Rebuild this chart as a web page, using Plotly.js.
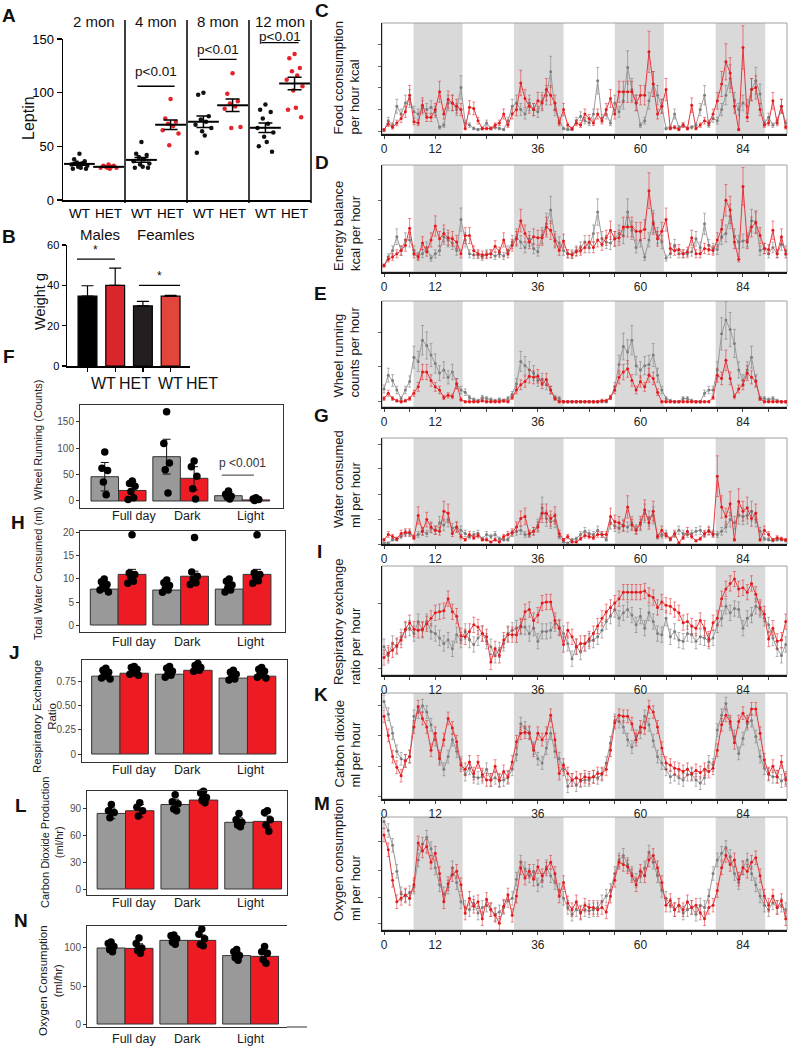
<!DOCTYPE html>
<html><head><meta charset="utf-8">
<script src="https://cdn.plot.ly/plotly-3.0.1.min.js"></script>
<style>html,body{margin:0;padding:0;background:#fff}#fig{width:796px;height:1046px}</style>
</head><body><div id="fig"></div>
<script>
// ================= DATA =================
// Panel A: leptin
const ageGroups = ['2 mon', '4 mon', '8 mon', '12 mon'];
const genotypes = ['WT', 'HET'];
const leptinWT = [
  [43, 38, 36, 35, 34, 33, 32, 31, 30, 29, 29],
  [54, 43, 42, 40, 38, 36, 34, 33, 31, 30, 30],
  [100, 98, 78, 75, 73, 70, 67, 64, 60, 44],
  [89, 84, 82, 76, 71, 67, 63, 59, 54, 50, 45]
];
const leptinHET = [
  [33, 32, 32, 31, 31, 30, 30, 30, 29],
  [94, 76, 73, 71, 69, 65, 62, 51],
  [118, 99, 92, 90, 87, 85, 68, 67],
  [136, 132, 123, 120, 116, 112, 106, 102, 86, 84, 77]
];
const leptinPText = ['', 'p<0.01', 'p<0.01', 'p<0.01'];

// Panel B: weight
const weightSex = ['Males', 'Feamles'];
const weightGeno = ['WT', 'HET', 'WT', 'HET'];
const weightMean = [34.6, 40.0, 29.8, 34.6];
const weightSD = [5.2, 8.5, 2.2, 0.4];

// Bar panels F, H, J, L, N
const periods = ['Full day', 'Dark', 'Light'];
const wheelWT = [46, 84, 10], wheelHET = [20, 43, 2];
const wheelErrWT = [27, 33, 8], wheelErrHET = [17, 22, 3];
const wheelPtsWT = [[93, 62, 58, 36, 12], [169, 109, 72, 59, 15], [19, 13, 9, 8, 4]];
const wheelPtsHET = [[38, 33, 28, 18, 6, 3], [76, 65, 47, 23, 4], [6, 4, 3, 1]];

const waterWT = [7.8, 7.6, 7.8], waterHET = [11.0, 10.6, 11.0];
const waterErrWT = [0.4, 0.4, 0.4], waterErrHET = [1.1, 1.1, 1.1];
const waterPtsWT = [[10, 9.4, 8.8, 8.3, 8, 7.6, 7.2], [9.8, 9.2, 8.6, 8, 7.6, 7.1], [10, 9.5, 8.7, 8.1, 7.6, 7.2]];
const waterPtsHET = [[19.6, 11.3, 11, 10.6, 9.5, 9.1], [19, 11.5, 10.6, 10, 9.2, 8.8], [19.6, 11.3, 11, 10.5, 9.6, 9.1]];

const rerWT = [0.80, 0.82, 0.78], rerHET = [0.83, 0.86, 0.80];
const rerErrWT = [0.02, 0.02, 0.02], rerErrHET = [0.015, 0.015, 0.015];
const rerPtsWT = [[0.88, 0.86, 0.84, 0.82, 0.80, 0.78, 0.77], [0.90, 0.88, 0.85, 0.83, 0.81, 0.79], [0.86, 0.84, 0.82, 0.79, 0.77, 0.76]];
const rerPtsHET = [[0.90, 0.89, 0.87, 0.85, 0.83, 0.82, 0.81], [0.93, 0.91, 0.89, 0.87, 0.86, 0.85], [0.89, 0.87, 0.85, 0.83, 0.81, 0.79, 0.78]];

const co2WT = [85, 95, 75], co2HET = [88, 100, 76];
const co2ErrWT = [6, 6, 5], co2ErrHET = [7, 4, 6];
const co2PtsWT = [[95, 88, 86, 80], [106, 98, 96, 90, 88], [85, 78, 75, 72, 70]];
const co2PtsHET = [[97, 92, 88, 82], [110, 108, 103, 100, 97], [88, 86, 78, 72, 65]];

const o2WT = [100, 110, 90], o2HET = [99.5, 110, 89];
const o2ErrWT = [6, 6, 5], o2ErrHET = [6, 7, 6];
const o2PtsWT = [[108, 106, 102, 98, 95], [117, 116, 112, 108, 105], [98, 95, 90, 87, 84]];
const o2PtsHET = [[113, 106, 100, 97, 93], [125, 118, 112, 105, 103], [102, 95, 93, 85, 80]];

// Time-course panels (hourly, relative units 0-100 of panel height)
const hourTickLabels = {0: '0', 12: '12', 36: '36', 60: '60', 84: '84'};
const darkStart = [6.9, 30.4, 54.0, 77.6];
const darkEnd = [18.4, 42.0, 65.5, 89.2];

const foodRed = [4,9,6,10,14,20,35,11,10,26, 15,15,22,38,18,31,28,25,22,5, 24,23,12,5,5,5,8,10,18,8, 18,22,46,32,25,22,30,28,40,35, 28,10,22,8,5,10,8,18,14,10, 18,12,22,32,18,38,38,38,38,28, 35,35,74,45,18,25,40,5,6,4, 8,5,26,5,8,12,10,18,30,45, 65,55,25,4,78,15,40,42,22,8, 10,30,10,25,6];
const foodGray = [3,12,8,25,18,28,32,20,18,24, 22,24,20,6,8,28,28,22,42,10, 8,5,4,5,10,5,6,5,4,12, 25,28,22,18,28,22,20,30,35,56, 22,12,5,4,4,12,16,12,10,18, 48,14,18,10,28,20,30,60,40,28, 8,12,30,45,35,25,5,6,18,6, 8,5,6,8,22,35,8,14,12,22, 35,50,30,22,28,25,40,48,36,10, 15,8,12,25,10];
const energyRed = [6,12,14,17,20,25,41,17,14,27, 19,30,43,31,36,32,31,28,17,34, 34,20,17,16,16,17,24,19,30,17, 25,31,48,36,28,33,32,32,42,39, 29,20,29,17,16,19,20,23,28,23, 30,26,32,39,31,32,42,42,42,38, 38,40,76,45,31,38,49,22,20,21, 17,19,32,17,17,22,21,20,30,40, 67,58,28,12,80,28,42,46,34,22, 21,39,17,33,17];
const energyGray = [6,14,20,33,20,30,30,20,15,17, 23,13,17,20,33,30,27,20,49,30, 17,16,16,14,17,17,15,17,15,20, 28,33,28,23,31,22,19,34,45,58, 31,27,20,17,17,20,23,28,23,36, 56,31,28,27,31,36,34,56,39,23, 30,14,30,47,34,28,13,17,25,17, 17,17,19,31,23,45,25,22,21,33, 36,52,33,28,29,30,48,47,20,22, 17,23,17,26,20];
const wheelHrRed = [8,13,8,6,5,6,8,13,19,33, 33,25,19,16,9,11,10,22,7,5, 5,5,5,6,5,5,5,5,6,5, 9,16,21,24,29,28,29,22,26,16, 8,5,5,5,5,5,5,5,5,5, 5,6,6,9,16,28,33,36,25,16, 24,19,30,27,14,5,5,5,5,5, 5,5,5,5,5,5,5,9,30,27, 44,27,10,17,21,32,28,24,8,5, 5,5,5,5,5];
const wheelHrGray = [17,30,25,16,8,16,24,47,43,63, 58,49,41,32,35,28,33,22,16,14, 9,7,6,9,8,7,6,7,6,8, 12,22,43,39,35,32,25,26,21,16, 9,8,5,5,5,5,5,5,5,5, 5,5,5,9,19,40,57,52,63,39, 35,39,40,49,30,16,8,6,5,5, 8,8,6,5,5,13,16,16,35,69, 82,73,60,35,25,35,47,25,8,8, 7,8,6,5,5];
const waterHrRed = [4,9,7,5,10,11,11,6,27,12, 23,16,13,12,31,29,10,16,7,4, 9,6,8,4,4,2,4,2,7,9, 11,16,24,26,10,12,16,29,29,24, 27,10,4,7,2,2,5,8,7,6, 9,9,9,26,21,20,17,35,18,13, 20,32,20,31,7,13,8,5,10,1, 6,12,7,3,5,10,12,9,64,35, 26,38,4,40,31,34,24,29,4,13, 9,4,6,5,4];
const waterHrGray = [1,1,4,4,7,10,10,7,9,12, 10,15,13,20,18,23,15,16,13,10, 7,9,10,5,9,7,9,5,4,4, 10,12,13,9,9,12,18,34,24,21, 22,7,2,1,4,5,9,12,10,9, 13,9,4,20,17,15,18,16,20,14, 18,29,24,27,7,8,10,4,9,13, 10,9,10,12,13,9,13,10,9,12, 16,23,20,27,26,27,31,23,12,5, 4,3,4,4,3];
const rerHrRed = [16,20,23,27,32,42,48,42,41,42, 47,52,57,58,59,70,58,54,36,35, 40,46,44,38,35,12,24,18,32,37, 37,37,45,58,60,50,55,66,67,67, 50,43,28,41,35,26,29,29,33,38, 45,52,58,62,66,70,76,76,76,76, 76,77,73,71,62,67,64,63,60,57, 48,49,45,43,50,43,33,48,52,70, 79,84,88,79,80,76,84,74,62,56, 33,43,31,32,49];
const rerHrGray = [26,18,29,26,35,41,43,38,49,41, 49,40,38,34,29,32,24,37,32,40, 32,28,34,38,31,26,18,23,29,38, 41,43,44,44,38,43,31,40,40,41, 47,44,38,29,15,26,21,29,31,32, 35,41,49,54,60,52,57,60,55,46, 54,43,57,49,38,37,52,35,40,32, 31,38,37,31,35,34,31,34,46,52, 63,57,61,60,43,52,55,63,60,52, 46,34,24,18,28];
const co2HrRed = [78,60,40,30,22,36,40,68,87,76, 68,46,62,38,56,76,67,54,32,28, 35,24,35,23,18,18,31,18,26,21, 35,54,62,63,62,46,62,56,62,79, 56,24,32,24,18,20,18,21,20,21, 24,24,28,46,72,79,78,78,71,56, 68,67,87,82,68,48,34,32,29,28, 26,28,24,27,25,28,26,29,46,70, 79,73,53,73,81,73,85,85,62,37, 24,31,21,35,18];
const co2HrGray = [92,80,62,45,38,36,40,78,82,88, 82,70,56,40,28,40,56,45,34,23, 29,21,20,21,28,18,20,17,18,20, 28,42,71,67,63,48,38,34,48,62, 45,38,28,12,18,13,17,18,18,21, 20,23,34,53,74,73,68,56,49,59, 63,78,70,55,40,34,28,21,23,20, 18,23,23,18,15,20,35,32,65,79, 90,71,59,43,57,71,74,59,40,29, 23,21,21,17,20];
const o2HrRed = [84,71,44,25,28,31,28,40,77,70, 74,60,68,50,25,41,49,52,40,15, 28,21,25,10,27,18,13,6,21,31, 13,30,55,46,52,45,56,48,54,60, 50,30,42,24,18,25,15,22,20,20, 18,20,16,30,44,60,58,56,48,40, 52,48,62,66,55,42,22,26,18,22, 18,25,20,22,15,10,20,22,35,55, 66,58,62,45,55,52,60,64,48,30, 22,30,20,26,10];
const o2HrGray = [96,88,75,52,32,30,33,38,62,76, 82,72,55,40,32,38,55,42,25,20, 18,24,15,20,22,18,14,16,20,26, 28,45,60,54,48,52,40,44,56,48, 42,35,28,20,14,18,16,18,17,18, 20,25,30,35,50,62,66,58,50,44, 48,55,69,60,48,35,28,22,18,22, 15,18,20,14,22,20,30,50,62,68, 73,65,50,42,55,62,50,40,30,22, 18,24,20,22,18];

// ================= LAYOUT HELPERS =================
const W = 796, H = 1046;
const FONT = 'Liberation Sans, Arial, Helvetica, sans-serif';
const xd = (a, b) => [a / W, b / W];
const yd = (t, b) => [1 - b / H, 1 - t / H];
const px2x = p => p / W;
const px2y = p => 1 - p / H;
const axName = k => (k === 1 ? '' : String(k));
const JIT = [0, -1, 1, -0.5, 0.5, -1.5, 1.5, -0.25, 0.25, -1.25, 1.25];

const traces = [], shapes = [], annotations = [];
const layout = {
  width: W, height: H, autosize: false,
  margin: {l: 0, r: 0, t: 0, b: 0, pad: 0},
  showlegend: false, barmode: 'overlay',
  paper_bgcolor: '#ffffff', plot_bgcolor: 'rgba(0,0,0,0)',
  font: {family: FONT, color: '#111'},
  shapes: shapes, annotations: annotations
};
function ann(text, xpx, ypx, size, opts) {
  annotations.push(Object.assign({
    text: text, x: px2x(xpx), y: px2y(ypx), xref: 'paper', yref: 'paper',
    showarrow: false, font: {family: FONT, size: size, color: '#111'},
    xanchor: 'center', yanchor: 'middle'
  }, opts || {}));
}
const baseAxis = {showgrid: false, zeroline: false, fixedrange: true};

// ================= PANEL A =================
const aOff = 0.235;
const aPx = x => 63 + (x + 0.5) * 62;
layout.xaxis = Object.assign({}, baseAxis, {
  domain: xd(63, 311), range: [-0.5, 3.5], anchor: 'y',
  showline: true, linecolor: '#000', linewidth: 1.5, ticks: '', tickangle: 0,
  tickvals: ageGroups.flatMap((g, i) => [i - aOff, i + aOff]),
  ticktext: ageGroups.flatMap(() => genotypes),
  tickfont: {size: 13.5, color: '#000', family: FONT}
});
layout.yaxis = Object.assign({}, baseAxis, {
  domain: yd(39, 200), range: [0, 150], anchor: 'x',
  tickvals: [0, 50, 100, 150], ticks: 'outside', ticklen: 5, tickwidth: 1.5, tickcolor: '#000',
  showline: true, linecolor: '#000', linewidth: 1.5,
  tickfont: {size: 13, color: '#000', family: FONT}
});
[0.5, 1.5, 2.5, 3.5].forEach(b => shapes.push({
  type: 'line', xref: 'paper', yref: 'paper', x0: px2x(aPx(b)), x1: px2x(aPx(b)),
  y0: px2y(20), y1: px2y(203), line: {color: '#000', width: 1.5}
}));
const mean = a => a.reduce((s, v) => s + v, 0) / a.length;
const sem = a => { const m = mean(a); return Math.sqrt(a.reduce((s, v) => s + (v - m) * (v - m), 0) / (a.length - 1)) / Math.sqrt(a.length); };
ageGroups.forEach((g, i) => {
  ann(g, aPx(i), 21, 15);
  [[leptinWT[i], -aOff, '#111111'], [leptinHET[i], aOff, '#e4232a']].forEach(([vals, dx, col]) => {
    traces.push({type: 'scatter', mode: 'markers', xaxis: 'x', yaxis: 'y', hoverinfo: 'skip',
      x: vals.map((v, j) => i + dx + JIT[j % JIT.length] * 0.085), y: vals,
      marker: {color: col, size: 4.5}});
    traces.push({type: 'scatter', mode: 'markers', xaxis: 'x', yaxis: 'y', hoverinfo: 'skip',
      x: [i + dx], y: [mean(vals)],
      marker: {symbol: 'line-ew', size: 22, color: '#000', line: {color: '#000', width: 2}},
      error_y: {type: 'data', array: [sem(vals)], color: '#000', thickness: 1.5, width: 7}});
  });
});
const aSigY = [null, 106, 131, 146.6];
const aSigShift = [0, 6, 1, -2];
leptinPText.forEach((t, i) => {
  if (!t) return;
  shapes.push({type: 'line', xref: 'x', yref: 'y', x0: i - 0.3, x1: i + 0.3, y0: aSigY[i], y1: aSigY[i], line: {color: '#000', width: 1.3}});
  annotations.push({text: t, xref: 'x', yref: 'y', x: i, y: aSigY[i], yanchor: 'bottom', yshift: aSigShift[i], borderpad: 0, showarrow: false, font: {family: FONT, size: 13.5, color: '#111'}});
});
ann('Leptin', 28, 118, 16, {textangle: -90});

// ================= PANEL B =================
layout.xaxis2 = Object.assign({}, baseAxis, {
  domain: xd(67, 190), range: [-0.74, 3.7], anchor: 'y2',
  showline: true, linecolor: '#000', linewidth: 1.5, ticks: 'outside', ticklen: 4, tickwidth: 1.2, tickcolor: '#000',
  tickvals: [0, 1, 2, 3], showticklabels: false
});
layout.yaxis2 = Object.assign({}, baseAxis, {
  domain: yd(245, 366), range: [0, 60], anchor: 'x2',
  tickvals: [0, 20, 40, 60], ticks: 'outside', ticklen: 4, tickwidth: 1.2, tickcolor: '#000',
  showline: true, linecolor: '#000', linewidth: 1.5, tickfont: {size: 11, color: '#000', family: FONT}
});
traces.push({type: 'bar', xaxis: 'x2', yaxis: 'y2', hoverinfo: 'skip',
  x: [0, 1, 2, 3], y: weightMean, width: 0.68,
  marker: {color: ['#000000', '#d8262c', '#231f20', '#e2453c'], line: {color: '#000', width: 1.2}},
  error_y: {type: 'data', symmetric: false, array: weightSD, arrayminus: [0, 0, 0, 0], color: '#000', thickness: 1.2, width: 6}});
shapes.push({type: 'line', xref: 'x2', yref: 'y2', x0: -0.38, x1: 0.99, y0: 53, y1: 53, line: {color: '#000', width: 1.2}});
shapes.push({type: 'line', xref: 'x2', yref: 'y2', x0: 1.86, x1: 3.34, y0: 40, y1: 40, line: {color: '#000', width: 1.2}});
annotations.push({text: '*', xref: 'x2', yref: 'y2', x: 0.3, y: 53, yanchor: 'bottom', showarrow: false, font: {family: FONT, size: 12}});
annotations.push({text: '*', xref: 'x2', yref: 'y2', x: 2.6, y: 40, yanchor: 'bottom', showarrow: false, font: {family: FONT, size: 12}});
ann(weightSex[0], 100, 234, 15);
ann(weightSex[1], 166, 234, 15);
[103, 135, 170, 202].forEach((p, i) => ann(weightGeno[i], p, 383, 16));
ann('Weight g', 40, 302, 14.5, {textangle: -90});

// ================= BAR PANELS =================
const periodLeftPx = [110, 172, 235];
function barPanel(k, o) {
  const n = axName(k), xa = 'x' + n, ya = 'y' + n;
  layout['xaxis' + n] = Object.assign({}, baseAxis, {
    domain: xd(o.l, o.r), range: o.xr, anchor: ya, showline: true, mirror: true,
    linecolor: '#333', linewidth: 1, ticks: '', showticklabels: false
  });
  layout['yaxis' + n] = Object.assign({}, baseAxis, {
    domain: yd(o.t, o.b), range: o.yr, anchor: xa, showline: true, mirror: o.noRight ? false : true,
    linecolor: '#333', linewidth: 1, ticks: 'outside', ticklen: 3, tickcolor: '#333',
    tickvals: o.tv, ticktext: o.tt || o.tv.map(String),
    tickfont: {size: 10, color: '#4d4d4d', family: FONT}
  });
  const off = 0.2225, bw = 0.445;
  const sets = [[o.wt, o.wtErr, o.wtPts, '#999999', -off], [o.het, o.hetErr, o.hetPts, '#ed1c24', off]];
  sets.forEach(([m, e, pts, col, dx]) => {
    traces.push({type: 'bar', xaxis: xa, yaxis: ya, hoverinfo: 'skip',
      x: [0, 1, 2].map(g => g + dx), y: m, width: bw,
      marker: {color: col, line: {color: '#333', width: 1}},
      error_y: {type: 'data', array: e, color: '#111', thickness: 1, width: 4}});
  });
  sets.forEach(([m, e, pts, col, dx]) => {
    const xs = [], ys = [];
    pts.forEach((arr, g) => arr.forEach((v, j) => { xs.push(g + dx + JIT[j % JIT.length] * 0.045); ys.push(v); }));
    traces.push({type: 'scatter', mode: 'markers', xaxis: xa, yaxis: ya, hoverinfo: 'skip', cliponaxis: false,
      x: xs, y: ys, marker: {color: '#000', size: 7.5}});
  });
  periods.forEach((p, i) => ann(p, periodLeftPx[i], o.labelY, 12.5, {xanchor: 'left', font: {family: FONT, size: 12.5, color: '#1a1a1a'}}));
  ann(o.title, o.titleX, o.titleY, o.titleSize, {textangle: -90, font: {family: FONT, size: o.titleSize, color: '#1a1a1a'}});
}
barPanel(3, {l: 80, r: 283, t: 405, b: 508, xr: [-0.623, 2.66], yr: [-13.3, 182], tv: [0, 50, 100, 150],
  wt: wheelWT, het: wheelHET, wtErr: wheelErrWT, hetErr: wheelErrHET, wtPts: wheelPtsWT, hetPts: wheelPtsHET,
  labelY: 516, title: 'Wheel Running (Counts)', titleX: 38, titleY: 440, titleSize: 11});
barPanel(4, {l: 80, r: 285, t: 531, b: 632, xr: [-0.61, 2.67], yr: [-1.52, 20.43], tv: [0, 5, 10, 15, 20],
  wt: waterWT, het: waterHET, wtErr: waterErrWT, hetErr: waterErrHET, wtPts: waterPtsWT, hetPts: waterPtsHET,
  labelY: 642, title: 'Total Water Consumed (ml)', titleX: 38, titleY: 574, titleSize: 11});
barPanel(5, {l: 82, r: 287, t: 660, b: 762, xr: [-0.596, 2.62], yr: [-0.082, 0.966], tv: [0, 0.25, 0.5, 0.75], tt: ['0', '0.25', '0.50', '0.75'],
  wt: rerWT, het: rerHET, wtErr: rerErrWT, hetErr: rerErrHET, wtPts: rerPtsWT, hetPts: rerPtsHET,
  labelY: 770, title: 'Respiratory Exchange<br>Ratio', titleX: 44, titleY: 717, titleSize: 11.5});
barPanel(6, {l: 87, r: 287, t: 791, b: 895, xr: [-0.604, 2.53], yr: [-6.75, 110.2], tv: [0, 30, 60, 90],
  wt: co2WT, het: co2HET, wtErr: co2ErrWT, hetErr: co2ErrHET, wtPts: co2PtsWT, hetPts: co2PtsHET,
  labelY: 903, title: 'Carbon Dioxide Production<br>(ml/hr)', titleX: 52, titleY: 843, titleSize: 11});
barPanel(7, {l: 87, r: 287, t: 926, b: 1027, xr: [-0.606, 2.58], yr: [-3.9, 128.9], tv: [0, 50, 100], noRight: true,
  wt: o2WT, het: o2HET, wtErr: o2ErrWT, hetErr: o2ErrHET, wtPts: o2PtsWT, hetPts: o2PtsHET,
  labelY: 1039, title: 'Oxygen Consumption<br>(ml/hr)', titleX: 50, titleY: 980, titleSize: 11.5});
shapes.push({type: 'line', xref: 'paper', yref: 'paper', x0: px2x(287), x1: px2x(307), y0: px2y(1027), y1: px2y(1027), line: {color: '#333', width: 1}});
// p-value in F
shapes.push({type: 'line', xref: 'x3', yref: 'y3', x0: 1.67, x1: 2.19, y0: 49, y1: 49, line: {color: '#333', width: 1}});
annotations.push({text: 'p <0.001', xref: 'x3', yref: 'y3', x: 2.01, y: 72, showarrow: false, font: {family: FONT, size: 12, color: '#333'}});

// ================= TIME-COURSE PANELS =================
const hourTicks = [];
for (let h = 0; h <= 90; h += 6) hourTicks.push(h);
const rightPanels = [
  {k: 8,  top: 23,  bot: 134, red: foodRed,    gray: foodGray,    tv: [2, 22, 42, 61, 81], err: {type: 'percent', value: 25}, title: 'Food cconsumption<br>per hour kcal', tBot: 137},
  {k: 9,  top: 165, bot: 272, red: energyRed,  gray: energyGray,  tv: [30, 67],            err: {type: 'percent', value: 22}, title: 'Energy balance<br>kcal per hour', tBot: 273},
  {k: 10, top: 301, bot: 407, red: wheelHrRed, gray: wheelHrGray, tv: [5, 38, 70],         err: {type: 'percent', value: 22}, title: 'Wheel running<br>counts per hour', tBot: 400},
  {k: 11, top: 438, bot: 544, red: waterHrRed, gray: waterHrGray, tv: [0, 23.5, 47, 71, 94], err: {type: 'percent', value: 30}, title: 'Water consumed<br>ml per hour', tBot: 530},
  {k: 12, top: 566, bot: 675, red: rerHrRed,   gray: rerHrGray,   tv: [6, 66],             err: {type: 'constant', value: 7}, title: 'Respiratory exchange<br>ratio per hour', tBot: 687},
  {k: 13, top: 693, bot: 799, red: co2HrRed,   gray: co2HrGray,   tv: [2, 31, 60, 88],     err: {type: 'constant', value: 6}, title: 'Carbon dioxide<br>ml per hour', tBot: 790},
  {k: 14, top: 817, bot: 930, red: o2HrRed,    gray: o2HrGray,    tv: [6, 29, 53, 78],     err: {type: 'constant', value: 6}, title: 'Oxygen consumption<br>ml per hour', tBot: 923}
];
rightPanels.forEach(p => {
  const n = axName(p.k), xa = 'x' + n, ya = 'y' + n;
  layout['xaxis' + n] = Object.assign({}, baseAxis, {
    domain: xd(382, 787), range: [-0.47, 94.3], anchor: ya,
    showline: true, linecolor: '#1a1a1a', linewidth: 1.5, ticks: 'outside', ticklen: 3, tickcolor: '#444',
    tickvals: hourTicks, ticktext: hourTicks.map(h => hourTickLabels[h] || ''),
    tickfont: {size: 12, color: '#222', family: FONT}
  });
  layout['yaxis' + n] = Object.assign({}, baseAxis, {
    domain: yd(p.top, p.bot), range: [0, 100], anchor: xa,
    showline: true, linecolor: '#1a1a1a', linewidth: 1.5, ticks: 'outside', ticklen: 3, tickcolor: '#666',
    tickvals: p.tv, showticklabels: false
  });
  darkStart.forEach((s, i) => shapes.push({type: 'rect', xref: xa, yref: ya + ' domain', x0: s, x1: darkEnd[i], y0: 0, y1: 1,
    fillcolor: '#d9d9d9', line: {width: 0}, layer: 'below'}));
  shapes.push({type: 'rect', xref: xa + ' domain', yref: ya + ' domain', x0: 0, x1: 1, y0: 0, y1: 1,
    fillcolor: 'rgba(0,0,0,0)', line: {color: '#a0a0a0', width: 1}, layer: 'below'});
  const hrsG = p.gray.map((_, i) => i), hrsR = p.red.map((_, i) => i);
  traces.push({type: 'scatter', mode: 'lines+markers', xaxis: xa, yaxis: ya, hoverinfo: 'skip',
    x: hrsG, y: p.gray, line: {color: '#9a9a9a', width: 1}, marker: {color: '#7d7d7d', size: 3},
    error_y: Object.assign({color: 'rgba(120,120,120,0.55)', thickness: 1, width: 1.5}, p.err)});
  traces.push({type: 'scatter', mode: 'lines+markers', xaxis: xa, yaxis: ya, hoverinfo: 'skip',
    x: hrsR, y: p.red, line: {color: '#e8383d', width: 1}, marker: {color: '#e31a1c', size: 3},
    error_y: Object.assign({color: 'rgba(232,40,45,0.55)', thickness: 1, width: 1.5}, p.err)});
  ann(p.title, 347, p.tBot, 13, {textangle: -90, align: 'left', yanchor: 'bottom', font: {family: FONT, size: 13, color: '#1a1a1a'}});
});

// ================= PANEL LETTERS =================
[['A', 9, 16], ['B', 9, 236], ['F', 9, 356], ['H', 18, 522], ['J', 15, 652], ['L', 21, 805], ['N', 21, 920],
 ['C', 322, 10], ['D', 322, 163], ['E', 320, 294], ['G', 321, 415], ['I', 319, 551], ['K', 321, 694], ['M', 322, 804]]
  .forEach(([t, x, y]) => ann('<b>' + t + '</b>', x, y, 19, {font: {family: FONT, size: 19, color: '#111'}}));

Plotly.newPlot('fig', traces, layout, {staticPlot: true, displayModeBar: false});
</script>
</body></html>
